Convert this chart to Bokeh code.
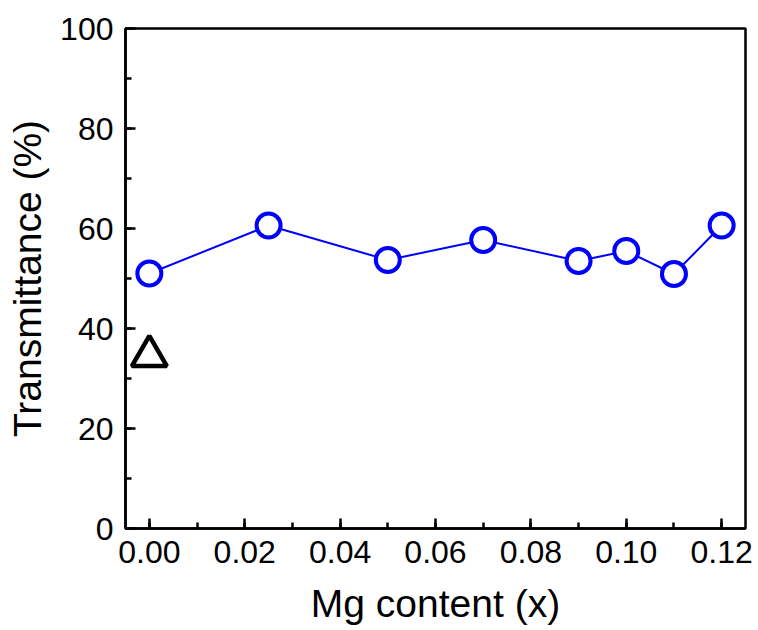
from bokeh.plotting import figure
from bokeh.models import Range1d, SingleIntervalTicker
from bokeh.embed import file_html
from bokeh.resources import INLINE

# data
mg_content = [0.0, 0.025, 0.05, 0.07, 0.09, 0.10, 0.11, 0.12]
transmittance = [51.0, 60.6, 53.7, 57.7, 53.5, 55.5, 50.9, 60.6]
ref_x = [0.0]
ref_y = [34.5]

FONT = "Liberation Sans"

p = figure(width=758, height=630, output_backend="svg", toolbar_location=None,
           x_range=Range1d(-0.005, 0.125), y_range=Range1d(0, 100),
           min_border_left=125, min_border_right=13, min_border_top=28, min_border_bottom=102)
p.grid.visible = False
p.outline_line_color = "black"
p.outline_line_width = 2.5
p.background_fill_color = "white"
p.border_fill_color = "white"

p.line(mg_content, transmittance, line_color="#0000ff", line_width=2)
p.scatter(mg_content, transmittance, marker="circle", size=24, line_color="#0000ff",
          line_width=4, fill_color="white")
p.scatter(ref_x, ref_y, marker="triangle", size=35, line_color="black",
          line_width=4.5, fill_color="white")

p.xaxis.ticker = SingleIntervalTicker(interval=0.02, num_minor_ticks=2)
p.yaxis.ticker = SingleIntervalTicker(interval=20, num_minor_ticks=2)

for ax in (p.xaxis, p.yaxis):
    ax.axis_line_width = 2.5
    ax.axis_line_color = "black"
    ax.major_tick_in = 10
    ax.major_tick_out = 0
    ax.minor_tick_in = 6
    ax.minor_tick_out = 0
    ax.major_tick_line_width = 2.5
    ax.minor_tick_line_width = 2.5
    ax.major_label_text_font = FONT
    ax.major_label_text_font_size = "32px"
    ax.major_label_text_color = "black"
    ax.axis_label_text_font = FONT
    ax.axis_label_text_font_size = "39px"
    ax.axis_label_text_font_style = "normal"
    ax.axis_label_text_color = "black"

p.xaxis.axis_label = "Mg content (x)"
p.yaxis.axis_label = "Transmittance (%)"
p.xaxis.major_label_standoff = 12
p.yaxis.major_label_standoff = 12
p.xaxis.axis_label_standoff = 16
p.yaxis.axis_label_standoff = 8
p.xaxis.major_label_overrides = {0: "0.00", 0.02: "0.02", 0.04: "0.04", 0.06: "0.06",
                                 0.08: "0.08", 0.1: "0.10", 0.12: "0.12"}

open("out.html", "w").write(file_html(p, INLINE))
